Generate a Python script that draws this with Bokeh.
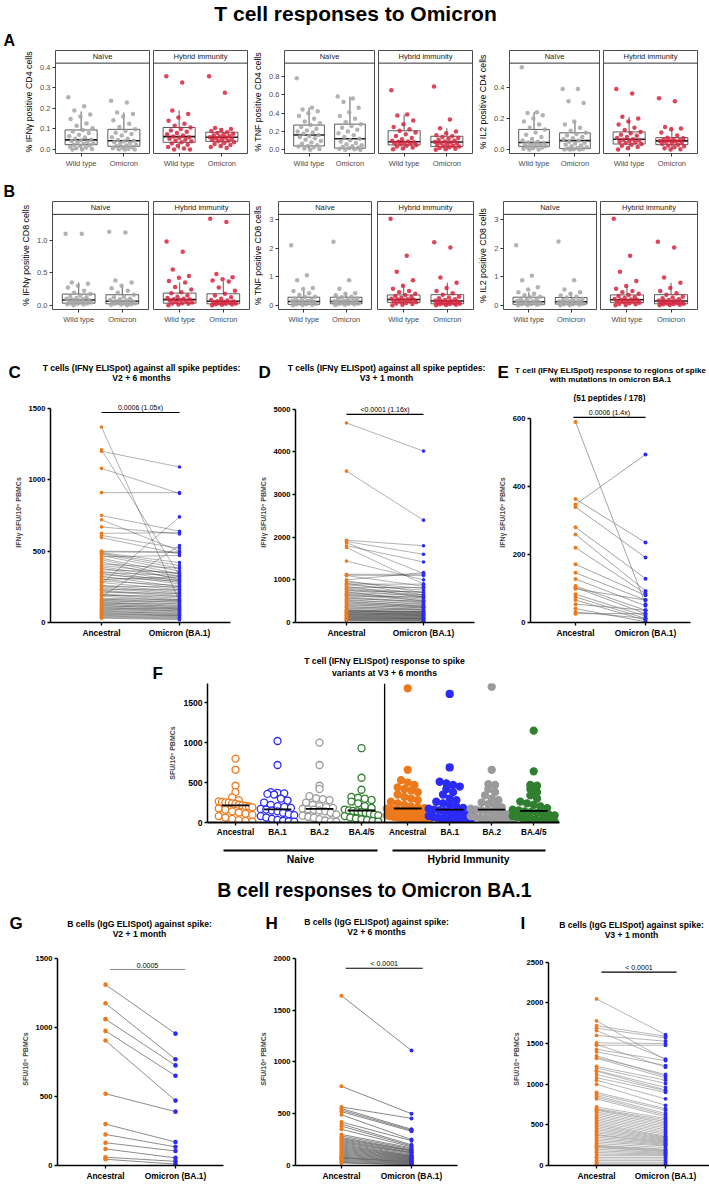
import numpy as np
from bokeh.plotting import figure
from bokeh.models import Range1d, FixedTicker, Span, PrintfTickFormatter
from bokeh.layouts import column, row
from bokeh.embed import file_html
from bokeh.resources import INLINE
from bokeh.core.properties import value

FONT = "Liberation Sans"
W = 709

# ---------------------------------------------------------------- data
GG_CATS = ["Wild type", "Omicron"]
FACETS = ["Naïve", "Hybrid immunity"]

# Panel A: CD4 (order of box stats: naive WT, naive Omi, hybrid WT, hybrid Omi)
A1_label = "% IFNγ positive CD4 cells"
A1_lo = [0.0, 0.0, 0.0, 0.008]
A1_q1 = [0.024, 0.016, 0.035, 0.040]
A1_med = [0.047, 0.043, 0.063, 0.060]
A1_q3 = [0.095, 0.098, 0.107, 0.084]
A1_hi = [0.185, 0.180, 0.190, 0.105]
A1_naive_wt = [0.254, 0.21, 0.19, 0.17, 0.16, 0.148, 0.127, 0.116, 0.103, 0.095, 0.088, 0.08, 0.072, 0.065, 0.058, 0.052, 0.048, 0.045, 0.042, 0.038, 0.034, 0.03, 0.027, 0.024, 0.021, 0.018, 0.014, 0.01, 0.006, 0.003, 0.0, 0.0]
A1_naive_om = [0.237, 0.228, 0.18, 0.172, 0.16, 0.142, 0.125, 0.11, 0.098, 0.09, 0.082, 0.075, 0.068, 0.06, 0.052, 0.047, 0.043, 0.04, 0.036, 0.032, 0.028, 0.024, 0.02, 0.016, 0.013, 0.01, 0.007, 0.004, 0.002, 0.0, 0.0]
A1_hyb_wt = [0.355, 0.325, 0.19, 0.172, 0.155, 0.14, 0.125, 0.115, 0.107, 0.1, 0.093, 0.086, 0.08, 0.074, 0.068, 0.063, 0.06, 0.057, 0.053, 0.048, 0.044, 0.04, 0.035, 0.03, 0.024, 0.018, 0.012, 0.005, 0.0, 0.0]
A1_hyb_om = [0.355, 0.275, 0.105, 0.1, 0.095, 0.09, 0.084, 0.08, 0.077, 0.073, 0.07, 0.066, 0.063, 0.06, 0.058, 0.055, 0.052, 0.049, 0.046, 0.043, 0.04, 0.036, 0.032, 0.027, 0.022, 0.017, 0.012, 0.008]

A2_label = "% TNF positive CD4 cells"
A2_lo = [0.0, 0.0, 0.005, 0.0]
A2_q1 = [0.042, 0.018, 0.053, 0.035]
A2_med = [0.162, 0.120, 0.088, 0.085]
A2_q3 = [0.270, 0.280, 0.208, 0.148]
A2_hi = [0.460, 0.580, 0.385, 0.236]
A2_naive_wt = [0.78, 0.46, 0.44, 0.42, 0.4, 0.37, 0.34, 0.31, 0.29, 0.27, 0.25, 0.23, 0.21, 0.2, 0.19, 0.175, 0.162, 0.15, 0.14, 0.125, 0.11, 0.095, 0.08, 0.065, 0.05, 0.042, 0.035, 0.025, 0.015, 0.008, 0.0]
A2_naive_om = [0.58, 0.56, 0.52, 0.46, 0.41, 0.37, 0.34, 0.3, 0.28, 0.26, 0.24, 0.22, 0.2, 0.18, 0.16, 0.14, 0.12, 0.105, 0.09, 0.075, 0.06, 0.05, 0.04, 0.03, 0.022, 0.018, 0.012, 0.006, 0.0, 0.0]
A2_hyb_wt = [0.65, 0.385, 0.375, 0.32, 0.28, 0.25, 0.225, 0.208, 0.19, 0.17, 0.15, 0.13, 0.115, 0.1, 0.092, 0.088, 0.083, 0.078, 0.072, 0.066, 0.06, 0.053, 0.045, 0.035, 0.025, 0.015, 0.005]
A2_hyb_om = [0.69, 0.33, 0.236, 0.2, 0.18, 0.16, 0.148, 0.14, 0.13, 0.12, 0.11, 0.1, 0.092, 0.085, 0.08, 0.074, 0.068, 0.06, 0.052, 0.045, 0.04, 0.035, 0.028, 0.02, 0.012, 0.005, 0.0]

A3_label = "% IL2 positive CD4 cells"
A3_lo = [0.0, 0.0, 0.0, 0.0]
A3_q1 = [0.020, 0.006, 0.035, 0.031]
A3_med = [0.045, 0.057, 0.066, 0.055]
A3_q3 = [0.129, 0.107, 0.113, 0.076]
A3_hi = [0.240, 0.180, 0.210, 0.144]
A3_naive_wt = [0.53, 0.24, 0.235, 0.22, 0.2, 0.18, 0.16, 0.14, 0.129, 0.11, 0.095, 0.08, 0.068, 0.058, 0.05, 0.045, 0.042, 0.038, 0.034, 0.03, 0.026, 0.022, 0.02, 0.016, 0.012, 0.008, 0.004, 0.0, 0.0]
A3_naive_om = [0.39, 0.39, 0.31, 0.3, 0.18, 0.16, 0.14, 0.12, 0.107, 0.1, 0.09, 0.08, 0.072, 0.065, 0.057, 0.05, 0.044, 0.038, 0.032, 0.026, 0.02, 0.015, 0.01, 0.006, 0.004, 0.002, 0.0, 0.0, 0.0]
A3_hyb_wt = [0.39, 0.36, 0.21, 0.2, 0.18, 0.16, 0.14, 0.125, 0.113, 0.105, 0.095, 0.088, 0.08, 0.074, 0.066, 0.062, 0.058, 0.054, 0.05, 0.046, 0.042, 0.035, 0.03, 0.024, 0.016, 0.008, 0.0]
A3_hyb_om = [0.33, 0.31, 0.144, 0.135, 0.13, 0.11, 0.09, 0.076, 0.072, 0.068, 0.064, 0.06, 0.057, 0.055, 0.052, 0.049, 0.045, 0.041, 0.036, 0.031, 0.026, 0.02, 0.014, 0.008, 0.002, 0.0]

# Panel B: CD8
B1_label = "% IFNγ positive CD8 cells"
B1_lo = [0.0, 0.0, 0.0, 0.0]
B1_q1 = [0.030, 0.020, 0.030, 0.020]
B1_med = [0.080, 0.060, 0.085, 0.060]
B1_q3 = [0.170, 0.160, 0.185, 0.175]
B1_hi = [0.350, 0.300, 0.350, 0.365]
B1_naive_wt = [1.1, 1.1, 0.35, 0.33, 0.3, 0.27, 0.22, 0.19, 0.17, 0.15, 0.13, 0.12, 0.11, 0.1, 0.09, 0.08, 0.075, 0.07, 0.06, 0.05, 0.045, 0.04, 0.035, 0.03, 0.025, 0.02, 0.015, 0.01, 0.0]
B1_naive_om = [1.13, 1.12, 0.38, 0.35, 0.3, 0.26, 0.22, 0.19, 0.16, 0.13, 0.12, 0.1, 0.09, 0.08, 0.07, 0.06, 0.055, 0.05, 0.045, 0.04, 0.035, 0.03, 0.025, 0.02, 0.015, 0.01, 0.005, 0.0]
B1_hyb_wt = [0.98, 0.82, 0.55, 0.45, 0.42, 0.37, 0.35, 0.28, 0.24, 0.2, 0.185, 0.15, 0.13, 0.11, 0.1, 0.09, 0.085, 0.08, 0.07, 0.06, 0.05, 0.04, 0.03, 0.025, 0.02, 0.01, 0.0]
B1_hyb_om = [1.33, 1.28, 0.48, 0.43, 0.4, 0.38, 0.365, 0.27, 0.22, 0.175, 0.15, 0.12, 0.1, 0.08, 0.07, 0.06, 0.055, 0.05, 0.04, 0.035, 0.03, 0.025, 0.02, 0.015, 0.01, 0.005, 0.0]

B2_label = "% TNF positive CD8 cells"
B2_lo = [0.0, 0.01, 0.0, 0.0]
B2_q1 = [0.030, 0.050, 0.100, 0.050]
B2_med = [0.130, 0.130, 0.200, 0.150]
B2_q3 = [0.280, 0.280, 0.360, 0.370]
B2_hi = [0.500, 0.420, 0.680, 0.790]
B2_naive_wt = [2.1, 1.05, 0.87, 0.6, 0.57, 0.5, 0.42, 0.36, 0.3, 0.28, 0.22, 0.2, 0.18, 0.16, 0.14, 0.13, 0.12, 0.1, 0.09, 0.08, 0.06, 0.05, 0.04, 0.03, 0.02, 0.01, 0.0]
B2_naive_om = [2.22, 0.87, 0.58, 0.42, 0.4, 0.35, 0.3, 0.28, 0.23, 0.21, 0.19, 0.17, 0.15, 0.14, 0.13, 0.12, 0.11, 0.1, 0.09, 0.08, 0.07, 0.06, 0.05, 0.04, 0.03, 0.02, 0.01]
B2_hyb_wt = [3.03, 1.73, 1.17, 0.87, 0.68, 0.58, 0.5, 0.45, 0.4, 0.36, 0.32, 0.29, 0.26, 0.23, 0.21, 0.2, 0.19, 0.17, 0.15, 0.13, 0.12, 0.1, 0.08, 0.06, 0.04, 0.02, 0.0]
B2_hyb_om = [2.2, 2.02, 0.97, 0.79, 0.6, 0.5, 0.42, 0.37, 0.3, 0.27, 0.24, 0.21, 0.18, 0.16, 0.15, 0.14, 0.12, 0.1, 0.09, 0.07, 0.06, 0.05, 0.04, 0.03, 0.02, 0.01, 0.0]

B3_label = "% IL2 positive CD8 cells"
B3_lo = [0.0, 0.0, 0.0, 0.0]
B3_q1 = [0.030, 0.040, 0.090, 0.050]
B3_med = [0.120, 0.120, 0.190, 0.150]
B3_q3 = [0.280, 0.270, 0.360, 0.370]
B3_hi = [0.450, 0.450, 0.670, 0.790]
B3_naive_wt = [2.1, 1.03, 0.87, 0.63, 0.55, 0.45, 0.4, 0.35, 0.3, 0.28, 0.23, 0.2, 0.18, 0.15, 0.13, 0.12, 0.11, 0.1, 0.09, 0.07, 0.06, 0.05, 0.04, 0.03, 0.02, 0.01, 0.0]
B3_naive_om = [2.23, 0.87, 0.55, 0.45, 0.4, 0.34, 0.3, 0.27, 0.23, 0.2, 0.18, 0.16, 0.14, 0.13, 0.12, 0.11, 0.1, 0.09, 0.08, 0.07, 0.06, 0.05, 0.04, 0.03, 0.02, 0.01, 0.0]
B3_hyb_wt = [3.03, 1.73, 1.17, 0.85, 0.67, 0.58, 0.5, 0.45, 0.4, 0.36, 0.32, 0.28, 0.25, 0.22, 0.2, 0.19, 0.18, 0.16, 0.14, 0.12, 0.11, 0.09, 0.07, 0.05, 0.03, 0.01, 0.0]
B3_hyb_om = [2.22, 2.02, 0.97, 0.79, 0.6, 0.5, 0.42, 0.37, 0.3, 0.27, 0.24, 0.21, 0.18, 0.16, 0.15, 0.14, 0.12, 0.1, 0.09, 0.07, 0.06, 0.05, 0.04, 0.03, 0.02, 0.01, 0.0]

# Paired ELISpot panels
PAIR_CATS = ["Ancestral", "Omicron (BA.1)"]
C_anc = [1370, 1210, 1200, 1080, 910, 750, 720, 670, 625, 610, 595, 500, 495, 490, 485, 480, 470, 460, 450, 440, 425, 410, 400, 390, 380, 370, 360, 350, 345, 335, 325, 315, 305, 300, 290, 280, 270, 260, 255, 250, 240, 230, 225, 220, 210, 200, 195, 190, 185, 180, 170, 165, 160, 155, 150, 145, 140, 135, 130, 125, 120, 115, 110, 105, 100, 95, 90, 85, 80, 75, 70, 65, 60, 55, 50, 45, 40, 35, 30]
C_omi = [150, 330, 1090, 905, 910, 640, 500, 620, 630, 520, 480, 495, 490, 420, 400, 380, 360, 470, 340, 320, 300, 380, 340, 310, 290, 350, 280, 330, 270, 300, 250, 290, 240, 320, 260, 230, 740, 220, 250, 210, 200, 230, 190, 180, 205, 170, 160, 185, 150, 540, 160, 140, 155, 130, 145, 120, 110, 130, 100, 115, 95, 105, 90, 80, 95, 75, 85, 70, 60, 65, 55, 50, 45, 50, 40, 35, 30, 25, 20]
D_anc = [4680, 3550, 1930, 1900, 1870, 1800, 1760, 1440, 1130, 1110, 1100, 1000, 980, 950, 920, 900, 880, 850, 820, 800, 780, 760, 740, 720, 700, 680, 660, 640, 620, 600, 580, 560, 540, 520, 500, 480, 460, 440, 420, 400, 380, 360, 340, 320, 300, 290, 280, 270, 260, 250, 240, 230, 220, 210, 200, 190, 180, 170, 160, 150, 140, 130, 120, 110, 100, 90, 80, 70, 60, 50, 40]
D_omi = [4020, 2400, 1800, 1600, 1150, 1420, 900, 1000, 1130, 1100, 850, 1170, 700, 800, 650, 900, 760, 600, 820, 700, 650, 600, 720, 500, 640, 580, 550, 520, 600, 480, 460, 500, 420, 440, 380, 400, 360, 380, 340, 350, 300, 320, 280, 300, 250, 260, 240, 230, 220, 250, 200, 190, 210, 180, 170, 160, 175, 150, 140, 130, 120, 110, 100, 95, 90, 80, 70, 60, 50, 40, 30]
E_anc = [590, 363, 347, 340, 280, 259, 220, 171, 146, 128, 107, 103, 99, 83, 75, 66, 54, 41, 31, 26]
E_omi = [54, 235, 494, 191, 129, 93, 85, 80, 66, 49, 36, 26, 66, 19, 12, 7, 36, 2, 12, 26]
G_anc = [1310, 1175, 1060, 975, 905, 520, 300, 225, 165, 120, 60, 45]
G_omi = [955, 770, 725, 650, 470, 390, 170, 135, 105, 55, 30, 10]
H_anc = [1640, 765, 565, 550, 535, 520, 490, 420, 400, 380, 350, 300, 285, 270, 260, 250, 240, 230, 220, 210, 200, 190, 180, 170, 160, 150, 140, 130, 120, 110, 100, 90, 80, 75, 70, 60, 50, 40, 30, 25]
H_omi = [1110, 500, 455, 350, 340, 330, 250, 240, 200, 190, 180, 170, 160, 150, 145, 140, 130, 125, 120, 110, 100, 95, 90, 85, 80, 75, 70, 65, 60, 55, 50, 45, 40, 35, 30, 25, 20, 15, 10, 5]
I_anc = [2050, 1780, 1720, 1690, 1660, 1600, 1510, 1490, 1480, 1430, 1400, 1350, 1330, 1320, 1220, 1200, 1170, 1160, 1120, 1080, 1050, 1000, 900, 880, 860, 840, 820, 720, 700, 690, 680, 660, 640, 620, 600, 580, 560, 540, 520, 500, 480, 460, 440, 420, 400, 380, 370, 350, 330, 310, 290, 270, 250, 240, 230, 220, 200, 180, 160, 140, 120, 100, 80, 60, 40, 20, 10]
I_omi = [1610, 1300, 1590, 1570, 1310, 1530, 1500, 1210, 1480, 1290, 1230, 1100, 1120, 1080, 1050, 1010, 960, 930, 920, 900, 820, 740, 700, 680, 640, 620, 600, 580, 560, 540, 520, 500, 480, 460, 440, 420, 400, 380, 360, 350, 340, 330, 320, 310, 300, 290, 280, 270, 260, 250, 240, 220, 200, 190, 180, 170, 160, 150, 140, 130, 120, 100, 80, 60, 40, 20, 10]

SIG_TEXT = ["0.0006 (1.05x)", "<0.0001 (1.16x)", "0.0006 (1.4x)", "0.0005", "< 0.0001", "< 0.0001"]
SIG_Y = [1472, 4883, 603, 1420, 1905, 2379]

# Panel F
F_cats = ["Ancestral", "BA.1", "BA.2", "BA.4/5", "Ancestral", "BA.1", "BA.2", "BA.4/5"]
F_groups = ["Naive", "Hybrid Immunity"]
F_naive_anc = [800, 660, 460, 380, 315, 280, 265, 258, 252, 248, 240, 232, 222, 215, 208, 200, 190, 175, 160, 140, 125, 110, 95, 80, 62, 45, 30, 20, 12]
F_naive_ba1 = [1020, 720, 380, 372, 365, 358, 350, 300, 275, 250, 220, 205, 195, 182, 170, 162, 150, 140, 122, 105, 92, 80, 62, 45, 32, 22, 14, 10]
F_naive_ba2 = [1000, 720, 460, 420, 330, 305, 292, 280, 250, 222, 205, 192, 182, 172, 166, 160, 150, 140, 122, 102, 85, 72, 60, 42, 25, 14, 10]
F_naive_ba45 = [930, 560, 410, 320, 310, 298, 282, 262, 240, 205, 182, 162, 152, 146, 140, 132, 122, 110, 100, 90, 80, 62, 50, 40, 30, 20, 12]
F_hyb_anc = [1680, 660, 530, 500, 470, 440, 420, 400, 380, 350, 320, 300, 280, 260, 240, 220, 200, 190, 180, 172, 165, 155, 145, 135, 125, 115, 105, 95, 88, 80, 72, 64, 56, 50, 44, 38, 32, 26, 20, 15, 10]
F_hyb_ba1 = [1610, 690, 510, 490, 470, 450, 420, 380, 350, 300, 280, 260, 240, 220, 200, 182, 172, 162, 152, 142, 132, 122, 112, 102, 92, 82, 72, 62, 52, 46, 40, 34, 28, 22, 16, 12]
F_hyb_ba2 = [1700, 660, 480, 470, 420, 380, 340, 300, 280, 250, 230, 210, 190, 172, 162, 152, 142, 132, 122, 112, 100, 90, 80, 70, 60, 50, 42, 35, 28, 22, 16, 12]
F_hyb_ba45 = [1150, 640, 470, 460, 420, 380, 340, 300, 262, 240, 220, 200, 180, 160, 150, 140, 130, 120, 110, 100, 90, 80, 70, 60, 50, 42, 34, 26, 20, 14, 10]
F_median = [215, 165, 170, 150, 175, 160, 160, 145]

# ---------------------------------------------------------------- style
GRAY_PT = "#A6A6A6"
RED_PT = "#D7263D"
ORANGE = "#EC7A1C"
BLUE = "#2B2BF5"
F_COLORS = [ORANGE, BLUE, "#9A9A9A", "#2F7F2F"]


def base_fig(width, height, xr, yr, left, right, top, bottom, xaxis=True, yaxis=True):
    p = figure(width=width, height=height, x_range=xr, y_range=yr,
               output_backend="svg", toolbar_location=None,
               x_axis_location="below" if xaxis else None,
               y_axis_location="left" if yaxis else None)
    p.min_border_left = left
    p.min_border_right = right
    p.min_border_top = top
    p.min_border_bottom = bottom
    p.grid.visible = False
    p.background_fill_color = "white"
    p.border_fill_color = "white"
    p.outline_line_color = None
    return p


def htext(p, x, y, t, size, bold=True, align="center", color="black"):
    p.text(x=[x], y=[y], text=[t], text_font=value(FONT), text_font_size=f"{size}px",
           text_font_style="bold" if bold else "normal", text_align=align,
           text_baseline="middle", text_color=color)


def header(height):
    return base_fig(W, height, Range1d(0, W), Range1d(height, 0), 0, 0, 0, 0, False, False)


# --------------------------------------------------------- ggplot facets
BW = 0.375


def gg_facet(width, left, right, height, bottom, ylo, yhi, frame_h, strip_h, show_y,
             ylabel, yticks, yfmt, strip, groups, stats, color):
    panel_h = frame_h - strip_h
    yend = yhi + (yhi - ylo) * strip_h / panel_h
    p = base_fig(width, height, Range1d(0.4, 2.6), Range1d(ylo, yend),
                 left, right, 0, bottom, True, show_y)
    p.outline_line_color = "#4D4D4D"
    p.outline_line_width = 1
    lo, q1, med, q3, hi = stats
    xs = [1, 2]
    xl = [x - BW for x in xs]
    xr = [x + BW for x in xs]
    p.segment(x0=xs, y0=q3, x1=xs, y1=hi, line_color="#333333", line_width=0.8)
    p.segment(x0=xs, y0=q1, x1=xs, y1=lo, line_color="#333333", line_width=0.8)
    p.quad(left=xl, right=xr, bottom=q1, top=q3, fill_color="white",
           line_color="#333333", line_width=0.8)
    p.segment(x0=xl, y0=med, x1=xr, y1=med, line_color="#1A1A1A", line_width=1.6)
    for x, vals in zip(xs, groups):
        jx = [x + ((k * 0.618034) % 1 - 0.5) * 0.6 for k in range(len(vals))]
        p.scatter(jx, vals, size=4.5, fill_color=color, line_color=None, fill_alpha=0.85)
    p.add_layout(Span(location=yhi, dimension="width", line_color="#333333", line_width=1))
    p.text(x=[1.5], y=[(yhi + yend) / 2], text=[strip], text_align="center",
           text_baseline="middle", text_font=value(FONT), text_font_size="7.5px",
           text_color="#1A1A1A")
    ax = p.xaxis[0]
    ax.ticker = FixedTicker(ticks=[1, 2])
    ax.major_label_overrides = {1: GG_CATS[0], 2: GG_CATS[1]}
    ax.axis_line_color = None
    ax.major_tick_in = 0
    ax.major_tick_out = 3
    ax.major_tick_line_color = "#333333"
    ax.minor_tick_line_color = None
    ax.major_label_text_font = FONT
    ax.major_label_text_font_size = "7.5px"
    ax.major_label_text_color = "#4D4D4D"
    ax.major_label_standoff = 2
    if show_y:
        ay = p.yaxis[0]
        ay.ticker = FixedTicker(ticks=yticks)
        ay.formatter = PrintfTickFormatter(format=yfmt)
        ay.axis_line_color = None
        ay.major_tick_in = 0
        ay.major_tick_out = 3
        ay.major_tick_line_color = "#333333"
        ay.minor_tick_line_color = None
        ay.major_label_text_font = FONT
        ay.major_label_text_font_size = "7.5px"
        ay.major_label_text_color = "#4D4D4D"
        ay.major_label_standoff = 2
        ay.axis_label = ylabel
        ay.axis_label_text_font = FONT
        ay.axis_label_text_font_size = "8.8px"
        ay.axis_label_text_font_style = "normal"
        ay.axis_label_text_color = "black"
        ay.axis_label_standoff = 3
    return p


def gg_panel(widths, lefts, rights, height, bottom, yr, frame_h, strip_h, ylabel, yticks,
             yfmt, lo, q1, med, q3, hi, nwt, nom, hwt, hom):
    f1 = gg_facet(widths[0], lefts[0], rights[0], height, bottom, yr[0], yr[1], frame_h,
                  strip_h, True, ylabel, yticks, yfmt, FACETS[0], [nwt, nom],
                  (lo[0:2], q1[0:2], med[0:2], q3[0:2], hi[0:2]), GRAY_PT)
    f2 = gg_facet(widths[1], lefts[1], rights[1], height, bottom, yr[0], yr[1], frame_h,
                  strip_h, False, ylabel, yticks, yfmt, FACETS[1], [hwt, hom],
                  (lo[2:4], q1[2:4], med[2:4], q3[2:4], hi[2:4]), RED_PT)
    return [f1, f2]


HA, BA = 120, 14
rowA = row(
    *gg_panel([151, 99], [55, 2], [2, 3], HA, BA, (-0.019, 0.419), 106, 13, A1_label,
              [0, 0.1, 0.2, 0.3, 0.4], "%.1f", A1_lo, A1_q1, A1_med, A1_q3, A1_hi,
              A1_naive_wt, A1_naive_om, A1_hyb_wt, A1_hyb_om),
    *gg_panel([126, 99], [30, 2], [2, 3], HA, BA, (-0.04, 0.945), 106, 13, A2_label,
              [0, 0.2, 0.4, 0.6, 0.8], "%.1f", A2_lo, A2_q1, A2_med, A2_q3, A2_hi,
              A2_naive_wt, A2_naive_om, A2_hyb_wt, A2_hyb_om),
    *gg_panel([126, 108], [30, 2], [2, 12], HA, BA, (-0.026, 0.556), 106, 13, A3_label,
              [0, 0.2, 0.4], "%.1f", A3_lo, A3_q1, A3_med, A3_q3, A3_hi,
              A3_naive_wt, A3_naive_om, A3_hyb_wt, A3_hyb_om),
)

HB, BB = 125, 16
rowB = row(
    *gg_panel([150, 100], [52, 3], [2, 1], HB, BB, (-0.067, 1.397), 109, 13, B1_label,
              [0, 0.5, 1.0], "%.1f", B1_lo, B1_q1, B1_med, B1_q3, B1_hi,
              B1_naive_wt, B1_naive_om, B1_hyb_wt, B1_hyb_om),
    *gg_panel([124, 101], [25, 3], [3, 2], HB, BB, (-0.15, 3.18), 109, 13, B2_label,
              [0, 1, 2, 3], "%d", B2_lo, B2_q1, B2_med, B2_q3, B2_hi,
              B2_naive_wt, B2_naive_om, B2_hyb_wt, B2_hyb_om),
    *gg_panel([123, 111], [24, 2], [2, 12], HB, BB, (-0.15, 3.18), 109, 13, B3_label,
              [0, 1, 2, 3], "%d", B3_lo, B3_q1, B3_med, B3_q3, B3_hi,
              B3_naive_wt, B3_naive_om, B3_hyb_wt, B3_hyb_om),
)


# --------------------------------------------------------- Prism style panels
def prism_axes(p, yticks, ylabel, ysize, xsize, ybounds=None):
    for ax in (p.xaxis[0], p.yaxis[0]):
        ax.axis_line_color = "black"
        ax.axis_line_width = 1.5
        ax.major_tick_in = 0
        ax.major_tick_out = 3
        ax.major_tick_line_width = 1.3
        ax.major_tick_line_color = "black"
        ax.minor_tick_line_color = None
        ax.major_label_text_font = FONT
        ax.major_label_text_font_style = "bold"
        ax.major_label_text_color = "black"
        ax.major_label_standoff = 2
    p.yaxis[0].ticker = FixedTicker(ticks=yticks)
    p.yaxis[0].major_label_text_font_size = f"{ysize}px"
    p.xaxis[0].major_label_text_font_size = f"{xsize}px"
    p.yaxis[0].axis_label = ylabel
    p.yaxis[0].axis_label_text_font = FONT
    p.yaxis[0].axis_label_text_font_style = "bold"
    p.yaxis[0].axis_label_text_font_size = "7px"
    p.yaxis[0].axis_label_standoff = 4
    if ybounds is not None:
        p.yaxis[0].bounds = ybounds


def paired(width, left, right, height, top, bottom, xr, yend, yticks, ylabel, anc, omi,
           line_color, line_width, line_alpha, size, sig_x, sig_y, sig_text, sig_color):
    p = base_fig(width, height, Range1d(*xr), Range1d(0, yend), left, right, top, bottom)
    n = len(anc)
    p.segment(x0=[0] * n, y0=anc, x1=[1] * n, y1=omi, line_color=line_color,
              line_width=line_width, line_alpha=line_alpha)
    p.scatter([0] * n, anc, size=size, fill_color=ORANGE, line_color=None)
    p.scatter([1] * n, omi, size=size, fill_color=BLUE, line_color=None)
    p.segment(x0=[sig_x[0]], y0=[sig_y], x1=[sig_x[1]], y1=[sig_y], line_color=sig_color,
              line_width=1.2)
    p.text(x=[(sig_x[0] + sig_x[1]) / 2], y=[sig_y], text=[sig_text], text_align="center",
           text_baseline="bottom", y_offset=-1, text_font=value(FONT),
           text_font_size="7px", text_color="black")
    p.xaxis[0].ticker = FixedTicker(ticks=[0, 1])
    p.xaxis[0].major_label_overrides = {0: PAIR_CATS[0], 1: PAIR_CATS[1]}
    prism_axes(p, yticks, ylabel, 7.6, 8.4, (0, yticks[-1]))
    return p


IFN_LABEL = "IFNγ SFU/10⁶ PBMCs"
SFU_LABEL = "SFU/10⁶ PBMCs"
HC = 238
pC = paired(250, 50, 20, HC, 0, 17, (-0.654, 1.654), 1542, [0, 500, 1000, 1500], IFN_LABEL,
            C_anc, C_omi, "#262626", 0.6, 0.6, 3.6, (0, 1), SIG_Y[0], SIG_TEXT[0], "black")
pD = paired(240, 45, 16, HC, 0, 17, (-0.662, 1.662), 5160, [0, 1000, 2000, 3000, 4000, 5000],
            IFN_LABEL, D_anc, D_omi, "#262626", 0.6, 0.6, 3.6, (0, 1), SIG_Y[1], SIG_TEXT[1],
            "black")
pE = paired(219, 40, 19, HC, 0, 17, (-0.643, 1.643), 647, [0, 200, 400, 600], IFN_LABEL,
            E_anc, E_omi, "#7F7F7F", 0.8, 0.9, 4.0, (-0.03, 1), SIG_Y[2], SIG_TEXT[2], "black")
rowCDE = row(pC, pD, pE)

HG = 231
pG = paired(250, 57, 27, HG, 0, 14, (-0.686, 1.686), 1543, [0, 500, 1000, 1500], SFU_LABEL,
            G_anc, G_omi, "#8C8C8C", 1.0, 1.0, 4.6, (0.06, 1.14), SIG_Y[3], SIG_TEXT[3],
            "#8C8C8C")
pH = paired(240, 45, 33, HG, 0, 14, (-0.657, 1.657), 2057, [0, 500, 1000, 1500, 2000],
            SFU_LABEL, H_anc, H_omi, "#4D4D4D", 0.8, 0.85, 4.0, (0.06, 1.16), SIG_Y[4],
            SIG_TEXT[4], "black")
pI = paired(219, 58, 0, HG, 0, 14, (-0.696, 1.637), 2621, [0, 500, 1000, 1500, 2000, 2500],
            SFU_LABEL, I_anc, I_omi, "#8C8C8C", 0.7, 0.9, 3.8, (0.07, 1.16), SIG_Y[5],
            SIG_TEXT[5], "black")
rowGHI = row(pG, pH, pI)


# --------------------------------------------------------- Panel F
def swarm(vals, center, bin_size, step, maxw):
    vals = np.asarray(vals, float)
    xs = np.empty_like(vals)
    bins = np.floor(vals / bin_size).astype(int)
    for b in np.unique(bins):
        idx = np.where(bins == b)[0]
        n = len(idx)
        st = step if n <= 1 else min(step, 2 * maxw / (n - 1))
        xs[idx] = center + (np.arange(n) - (n - 1) / 2) * st
    return xs


F_pos = [0, 10, 20, 30, 41, 51, 61, 71]
F_sets = [F_naive_anc, F_naive_ba1, F_naive_ba2, F_naive_ba45,
          F_hyb_anc, F_hyb_ba1, F_hyb_ba2, F_hyb_ba45]
pF = base_fig(W, 157, Range1d(-6.67, 77.14), Range1d(0, 1740), 207, 150, 0, 18)
for i, (pos, vals) in enumerate(zip(F_pos, F_sets)):
    col = F_COLORS[i % 4]
    naive = i < 4
    xs = swarm(vals, pos, 90, 1.6, 4.0 if naive else 5.0)
    p_fill = "white" if naive else col
    pF.scatter(xs, vals, size=7, fill_color=p_fill, line_color=col, line_width=1.3)
pF.segment(x0=[x - 3.3 for x in F_pos], y0=F_median, x1=[x + 3.3 for x in F_pos],
           y1=F_median, line_color="black", line_width=1.8)
pF.add_layout(Span(location=(F_pos[3] + F_pos[4]) / 2, dimension="height",
                   line_color="black", line_width=1.3))
pF.xaxis[0].ticker = FixedTicker(ticks=F_pos)
pF.xaxis[0].major_label_overrides = {pos: c for pos, c in zip(F_pos, F_cats)}
prism_axes(pF, [0, 500, 1000, 1500], SFU_LABEL, 8.6, 8.2)
pF.xaxis[0].axis_line_width = 2

# --------------------------------------------------------- headers
hT = header(50)
htext(hT, 355, 13, "T cell responses to Omicron", 21)
htext(hT, 3, 40, "A", 16, align="left")

hB = header(31)
htext(hB, 3, 21, "B", 16, align="left")

hCDE = header(76)
TT1 = "T cells (IFNγ ELISpot) against all spike peptides:"
htext(hCDE, 8, 46, "C", 17, align="left")
htext(hCDE, 141, 41, TT1, 8.6)
htext(hCDE, 141, 51, "V2 + 6 months", 8.6)
htext(hCDE, 258, 46, "D", 17, align="left")
htext(hCDE, 386, 41, TT1, 8.6)
htext(hCDE, 386, 51, "V3 + 1 month", 8.6)
htext(hCDE, 497, 46, "E", 17, align="left")
htext(hCDE, 610, 44, "T cell (IFNγ ELISpot) response to regions of spike", 8.1)
htext(hCDE, 610, 53, "with mutations in omicron BA.1", 8.1)
htext(hCDE, 609, 71, "(51 peptides / 178)", 8.3)

hF = header(43)
htext(hF, 384, 20, "T cell (IFNγ ELISpot) response to spike", 8.7)
htext(hF, 384, 32, "variants at V3 + 6 months", 8.7)
htext(hF, 152, 33, "F", 17, align="left")

hMid = header(112)
hMid.segment(x0=[223, 392], y0=[10, 10], x1=[377, 545], y1=[10, 10], line_color="black",
             line_width=2)
htext(hMid, 300, 19, F_groups[0], 10.4)
htext(hMid, 468, 19, F_groups[1], 10.4)
htext(hMid, 374, 49, "B cell responses to Omicron BA.1", 19.5)
BT1 = "B cells (IgG ELISpot) against spike:"
htext(hMid, 9, 83, "G", 17, align="left")
htext(hMid, 139, 83, BT1, 8.6)
htext(hMid, 139, 93, "V2 + 1 month", 8.6)
htext(hMid, 265, 83, "H", 17, align="left")
htext(hMid, 376, 81, BT1, 8.6)
htext(hMid, 376, 91, "V2 + 6 months", 8.6)
htext(hMid, 520, 83, "I", 17, align="left")
htext(hMid, 631, 84, BT1, 8.6)
htext(hMid, 631, 94, "V3 + 1 month", 8.6)

layout = column(row(hT), rowA, row(hB), rowB, row(hCDE), rowCDE, row(hF), row(pF),
                row(hMid), rowGHI)
open("out.html", "w").write(file_html(layout, INLINE))
